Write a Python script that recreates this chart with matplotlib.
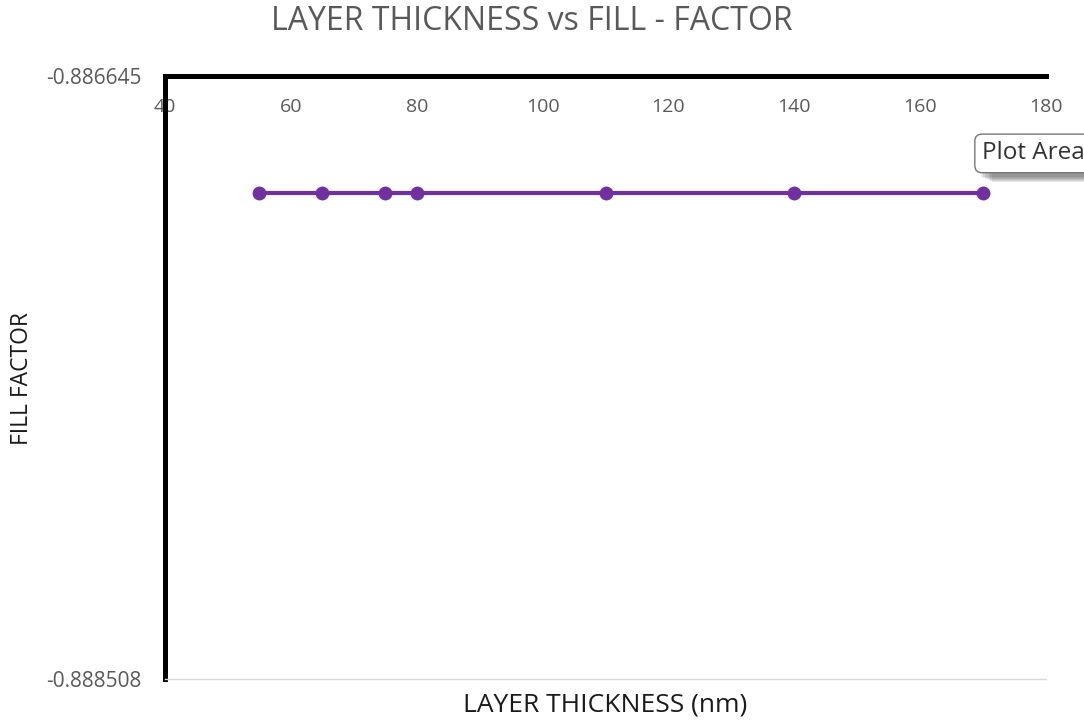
import matplotlib.pyplot as plt
from matplotlib.patches import Rectangle

plt.rcParams['font.family'] = ['Open Sans', 'DejaVu Sans']

thickness = [55, 65, 75, 80, 110, 140, 170]
fill_factor = [-0.887006, -0.887006, -0.887006, -0.887006, -0.887006, -0.887006, -0.887006]
y_limits = [-0.888508, -0.886645]
x_ticks = [40, 60, 80, 100, 120, 140, 160, 180]

grey = '#595959'

fig = plt.figure(figsize=(10.84, 7.27), dpi=100)
ax = fig.add_axes([0.1522, 0.066, 0.8128, 0.8295])

ax.plot(thickness, fill_factor, color='#7030A0', lw=3, marker='o', ms=9, zorder=3)

ax.set_xlim(40, 180)
ax.set_ylim(y_limits[0], y_limits[1])
ax.set_xticks(x_ticks)
ax.set_yticks(y_limits)
ax.set_yticklabels(['%.6f' % v for v in y_limits])

# x axis sits on the top edge, labels hang inside the plot area
ax.tick_params(axis='x', top=True, labeltop=True, bottom=False, labelbottom=False,
               length=0, pad=-29, labelsize=14, labelcolor=grey)
ax.tick_params(axis='y', length=0, pad=17, labelsize=15, labelcolor=grey)

ax.spines['top'].set_linewidth(3.6)
ax.spines['top'].set_color('black')
ax.spines['left'].set_linewidth(3.6)
ax.spines['left'].set_color('black')
ax.spines['right'].set_visible(False)
ax.spines['bottom'].set_color('#d9d9d9')
ax.spines['bottom'].set_linewidth(1)

fig.text(0.491, 0.97, 'LAYER THICKNESS vs FILL - FACTOR', ha='center', va='center',
         fontsize=23, color=grey)
fig.text(0.5585, 0.03, 'LAYER THICKNESS (nm)', ha='center', va='center',
         fontsize=19, color='#1a1a1a')
fig.text(0.02, 0.48, 'FILL FACTOR', rotation=90, ha='center', va='center',
         fontsize=16.5, color='#1a1a1a')

# hover tooltip on the plot area, with a soft drop shadow
for i in range(6):
    fig.patches.append(Rectangle((0.905 + 0.002 * i, 0.757 - 0.0015 * i), 0.12, 0.012,
                                 transform=fig.transFigure, fc='#404040', ec='none',
                                 alpha=0.12, zorder=1))
fig.text(0.906, 0.789, 'Plot Area', ha='left', va='center', fontsize=17.5, color='#333333',
         zorder=5,
         bbox=dict(boxstyle='round,pad=0.3,rounding_size=0.3', fc='white', ec='#767676', lw=1))

fig.savefig('out.png', dpi=100)
